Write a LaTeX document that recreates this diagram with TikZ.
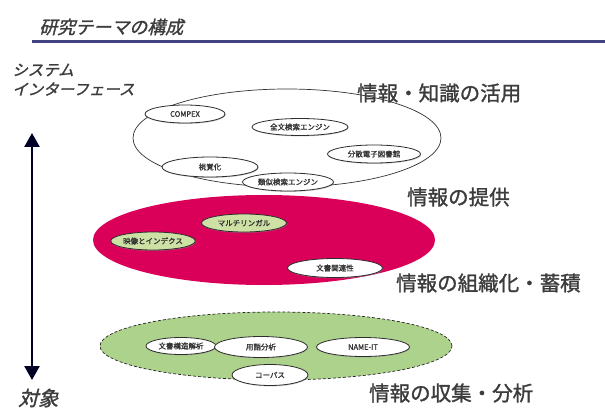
\documentclass[tikz,border=0pt]{standalone}
\usepackage{fontspec}
\setmainfont{Noto Sans CJK JP}
\newfontfamily\jpslant[FakeSlant=0.25,FakeBold=1.4]{Noto Sans CJK JP}
\newfontfamily\jpmed[FakeBold=1.3]{Noto Sans CJK JP}
\usetikzlibrary{shapes.geometric,shadows,arrows.meta}
\definecolor{linecol}{RGB}{66,66,130}
\definecolor{redfill}{RGB}{218,0,90}
\definecolor{greenfill}{RGB}{172,210,140}
\definecolor{lightgreen}{RGB}{205,225,165}
\definecolor{labelgray}{RGB}{60,60,60}
\tikzset{
  big/.style={ellipse, inner sep=0pt},
  sm/.style={ellipse, draw=gray!35!black, line width=0.8pt, inner sep=0pt,
    font=\jpmed\fontsize{7.5}{7.5}\selectfont, text=black!80,
    drop shadow={shadow xshift=0.6pt, shadow yshift=-0.9pt, fill=gray!80}},
  layerlabel/.style={font=\jpmed\fontsize{20.5}{20.5}\selectfont, text=labelgray, inner sep=0pt, anchor=west},
  sidelabel/.style={font=\jpslant, text=labelgray, inner sep=0pt, anchor=west}
}
\begin{document}
\begin{tikzpicture}[x=1pt,y=-1pt]
\useasboundingbox (0,0) rectangle (605,414);
% title
\node[sidelabel, font=\jpslant\fontsize{18}{18}\selectfont] (title) at (39,27) {研究テーマの構成};
\coordinate (lineL) at (32,42);
\coordinate (lineR) at (605,42);
\draw[linecol, line width=3pt] (lineL) -- (lineR);
% side labels
\node[sidelabel, font=\jpslant\fontsize{15.5}{15.5}\selectfont] (sys) at (12,70) {システム};
\node[sidelabel, font=\jpslant\fontsize{15.5}{15.5}\selectfont] (ifc) at (12,89) {インターフェース};
\node[sidelabel, font=\jpslant\fontsize{20}{20}\selectfont] (obj) at (18,398) {対象};
\coordinate (arrT) at (32,133);
\coordinate (arrB) at (32,380);
\draw[line width=2.6pt, black!85!blue, {Triangle[length=14pt,width=15pt]}-{Triangle[length=14pt,width=15pt]}] (arrT) -- (arrB);

% layer 1: white
\node[big, draw=gray!40!black, line width=0.7pt, fill=white, minimum width=308, minimum height=98] (w) at (287,138) {};
\node[sm, fill=white, minimum width=80, minimum height=18] (compex) at (185,114) {COMPEX};
\node[sm, fill=white, minimum width=96, minimum height=17] (zenbun) at (300,127) {全文検索エンジン};
\node[sm, fill=white, minimum width=93, minimum height=18] (bunsan) at (374,154) {分散電子図書館};
\node[sm, fill=white, minimum width=96, minimum height=20] (shikaku) at (210,167) {視覚化};
\node[sm, fill=white, minimum width=91, minimum height=18] (ruiji) at (288,182) {類似検索エンジン};

% layer 2: red
\node[big, fill=redfill, minimum width=342, minimum height=90] (r) at (264,240) {};
\node[sm, fill=lightgreen, minimum width=85, minimum height=18] (multi) at (244,223) {マルチリンガル};
\node[sm, fill=lightgreen, minimum width=80, minimum height=18] (eizo) at (153,241) {映像とインデクス};
\node[sm, fill=white, minimum width=95, minimum height=19] (kanren) at (335,268) {文書関連性};

% layer 3: green
\node[big, draw=gray!30!black, densely dashed, line width=0.7pt, fill=greenfill, minimum width=352, minimum height=68] (g) at (276,346) {};
\node[sm, fill=white, minimum width=70, minimum height=17] (kozo) at (181,346) {文書構造解析};
\node[sm, fill=white, minimum width=93, minimum height=21] (yogo) at (261,347) {用語分析};
\node[sm, fill=white, minimum width=93, minimum height=19] (nameit) at (363,347) {NAME-IT};
\node[sm, fill=white, minimum width=76, minimum height=21] (corpus) at (270,375) {コーパス};

% layer labels
\node[layerlabel] (l1) at (357,93) {情報・知識の活用};
\node[layerlabel] (l2) at (407,197) {情報の提供};
\node[layerlabel] (l3) at (396,283) {情報の組織化・蓄積};
\node[layerlabel] (l4) at (369,393) {情報の収集・分析};
\end{tikzpicture}
\end{document}
